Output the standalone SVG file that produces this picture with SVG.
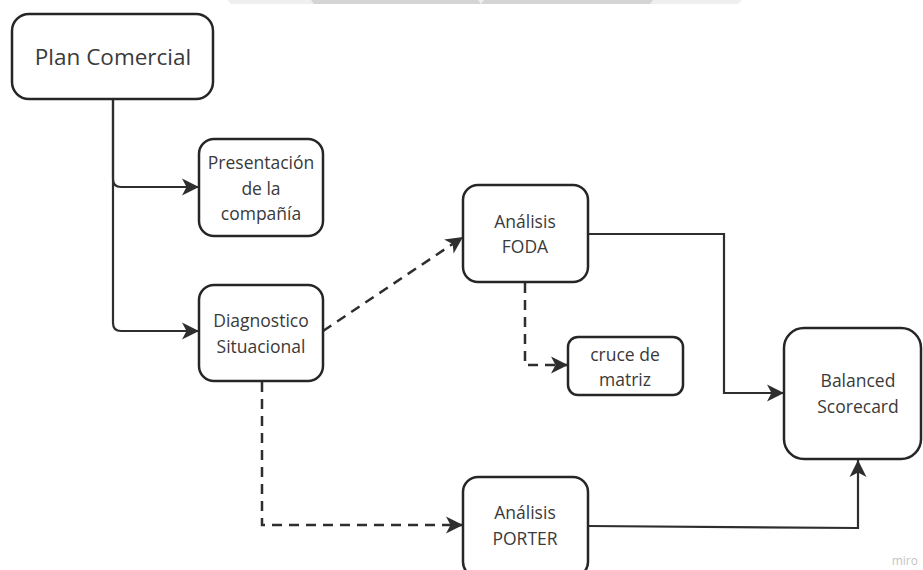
<svg xmlns="http://www.w3.org/2000/svg" width="923" height="570" viewBox="0 0 923 570">
  <style>
    .box { fill: #ffffff; stroke: #262626; stroke-width: 2.5; }
    .lbl { font-family: "Open Sans", "Liberation Sans", sans-serif; font-size: 17.5px; fill: #3a3a3a; text-anchor: middle; }
    .big { font-size: 22.5px; }
    .edge { fill: none; stroke: #2e2e2e; stroke-width: 2.2; }
    .dash { stroke-dasharray: 10 7; stroke-width: 2.5; }
  </style>
  <defs>
    <marker id="arrow" markerUnits="userSpaceOnUse" markerWidth="19" markerHeight="18" refX="17" refY="8.5" orient="auto" overflow="visible">
      <path d="M0,0 L17,8.5 L0,17 L4.5,8.5 Z" fill="#2e2e2e"/>
    </marker>
  </defs>

  <!-- header strip -->
  <g id="header">
    <polygon points="227,0 742,0 738,4 231,4" fill="#efefef"/>
    <polygon points="311,0 478,0 481,4 314,4" fill="#d4d4d4"/>
    <polygon points="484,0 653,0 650,4 481,4" fill="#d4d4d4"/>
  </g>

  <!-- connectors -->
  <g id="connectors">
    <path class="edge" d="M113,99 V179 Q113,187 121,187 H199" marker-end="url(#arrow)"/>
    <path class="edge" d="M113,99 V323 Q113,331 121,331 H199" marker-end="url(#arrow)"/>
    <path class="edge dash" d="M323,331 L463,237" marker-end="url(#arrow)"/>
    <path class="edge dash" d="M525,283 V365 H568" marker-end="url(#arrow)"/>
    <path class="edge" d="M588,234 H724 V393 H784" marker-end="url(#arrow)"/>
    <path class="edge dash" d="M262,382 V525 H463" marker-end="url(#arrow)"/>
    <path class="edge" d="M588,526 L858,528 V460" marker-end="url(#arrow)"/>
  </g>

  <!-- nodes -->
  <g id="plan-comercial">
    <rect class="box" x="12" y="14" width="201" height="85" rx="17"/>
    <text class="lbl big" x="113" y="65">Plan Comercial</text>
  </g>
  <g id="presentacion">
    <rect class="box" x="199" y="139" width="124" height="97" rx="15"/>
    <text class="lbl" x="261" y="169">Presentación</text>
    <text class="lbl" x="261" y="195">de la</text>
    <text class="lbl" x="261" y="220">compañía</text>
  </g>
  <g id="diagnostico">
    <rect class="box" x="199" y="285" width="124" height="96" rx="15"/>
    <text class="lbl" x="261" y="327">Diagnostico</text>
    <text class="lbl" x="261" y="353">Situacional</text>
  </g>
  <g id="analisis-foda">
    <rect class="box" x="463" y="185" width="125" height="97" rx="15"/>
    <text class="lbl" x="525" y="228">Análisis</text>
    <text class="lbl" x="525" y="253">FODA</text>
  </g>
  <g id="cruce-matriz">
    <rect class="box" x="568" y="337" width="115" height="58" rx="10"/>
    <text class="lbl" x="625" y="361">cruce de</text>
    <text class="lbl" x="625" y="386">matriz</text>
  </g>
  <g id="balanced-scorecard">
    <rect class="box" x="784" y="328" width="137" height="131" rx="20"/>
    <text class="lbl" x="858" y="387">Balanced</text>
    <text class="lbl" x="858" y="413">Scorecard</text>
  </g>
  <g id="analisis-porter">
    <rect class="box" x="463" y="477" width="125" height="100" rx="15"/>
    <text class="lbl" x="525" y="519">Análisis</text>
    <text class="lbl" x="525" y="545">PORTER</text>
  </g>

  <text x="918" y="565" font-family="Open Sans, Liberation Sans, sans-serif" font-size="12" fill="#c4c4c4" text-anchor="end">miro</text>
</svg>
